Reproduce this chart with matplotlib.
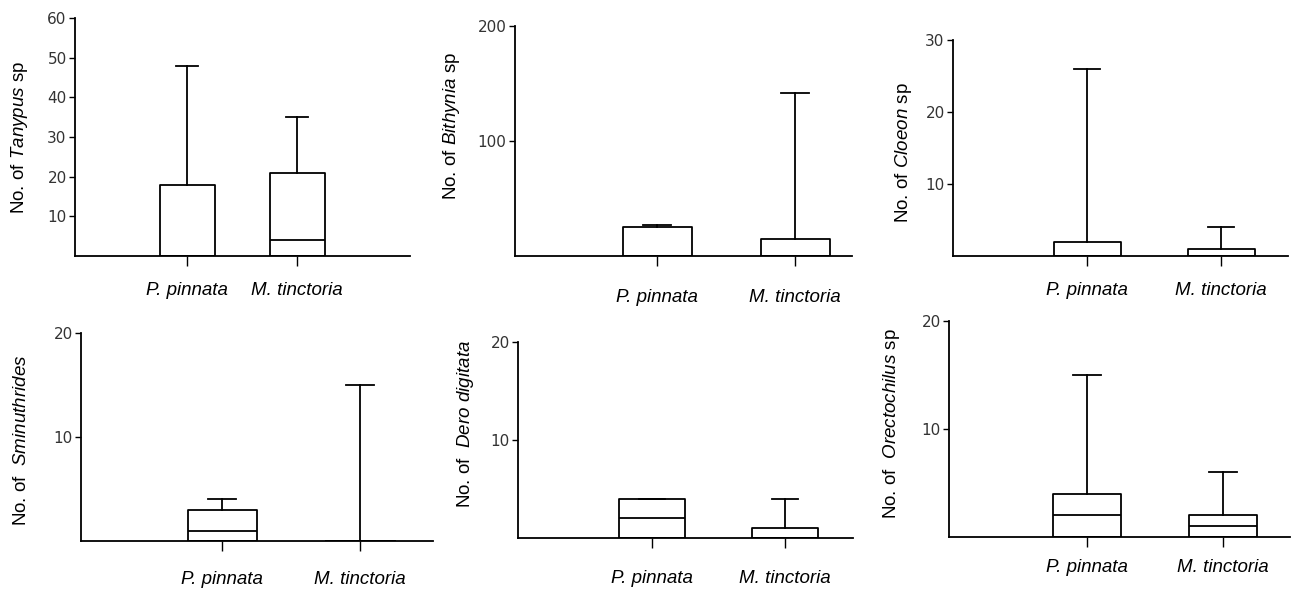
import matplotlib
matplotlib.use("Agg")
import matplotlib.pyplot as plt

plt.rcParams['font.family'] = ['Liberation Sans', 'DejaVu Sans']
plt.rcParams['mathtext.fontset'] = 'custom'
plt.rcParams['mathtext.rm'] = 'Liberation Sans'
plt.rcParams['mathtext.it'] = 'Liberation Sans:italic'

# groups on the x axis
groups = ["P. pinnata", "M. tinctoria"]

# y labels
ylabels = [
    r"No. of $\mathit{Tanypus}$ sp",
    r"No. of $\mathit{Bithynia}$ sp",
    r"No. of $\mathit{Cloeon}$ sp",
    r"No. of  $\mathit{Sminuthrides}$",
    r"No. of  $\mathit{Dero\ digitata}$",
    r"No. of  $\mathit{Orectochilus}$ sp",
]

# box stats per panel: [P. pinnata, M. tinctoria]
mins = [[0, 0], [0, 0], [0, 0], [0, 0], [0, 0], [0, 0]]
q1s = [[0, 0], [0, 0], [0, 0], [0, 0], [0, 0], [0, 0]]
medians = [[0, 4], [0, 0], [0, 0], [1, 0], [2, 0], [2, 1]]
q3s = [[18, 21], [25, 14.5], [2, 1], [3, 0], [4, 1], [4, 2]]
maxs = [[48, 35], [27, 142], [26, 4], [4, 15], [4, 4], [15, 6]]

ymaxs = [60, 200, 30, 20, 20, 20]
yticks = [[10, 20, 30, 40, 50, 60], [100, 200], [10, 20, 30],
          [10, 20], [10, 20], [10, 20]]

W, H = 1291, 591
fig = plt.figure(figsize=(W / 100, H / 100), dpi=100)

# pixel layout: (left, top, right, bottom, x of group 1, x of group 2)
frames = [
    (75, 18, 410, 256, 187, 297),
    (515, 26, 852, 256, 657, 795),
    (953, 40, 1288, 256, 1087, 1221),
    (81, 333, 433, 541, 222, 360),
    (518, 342, 853, 538, 652, 785),
    (949, 321, 1290, 537, 1087, 1223),
]
ylabel_x = [20, 452, 903, 21, 466, 891]
ylabel_y = [137, 126, 153, 440, 424, 424]
xlabel_pad = [12, 16.5, 11.5, 14.4, 16, 8.6]

for i in range(6):
    left, top, right, bottom, g1, g2 = frames[i]
    ax = fig.add_axes([left / W, 1 - bottom / H, (right - left) / W, (bottom - top) / H])
    step = g2 - g1
    ax.set_xlim(1 - (g1 - left) / step, 2 + (right - g2) / step)
    ax.set_ylim(0, ymaxs[i])

    stats = []
    for j in range(2):
        stats.append(dict(whislo=mins[i][j], q1=q1s[i][j], med=medians[i][j],
                          q3=q3s[i][j], whishi=maxs[i][j], fliers=[]))
    lw = 1.3
    ax.bxp(stats, positions=[1, 2], widths=0.5, capwidths=0.2, showfliers=False,
           boxprops=dict(color='black', linewidth=lw),
           whiskerprops=dict(color='black', linewidth=lw),
           capprops=dict(color='black', linewidth=lw),
           medianprops=dict(color='black', linewidth=lw))

    ax.set_xticks([1, 2])
    ax.set_xticklabels(groups, fontsize=13.5, style='italic')
    ax.set_yticks(yticks[i])
    ax.set_yticklabels([str(t) for t in yticks[i]], fontsize=11,
                       family='DejaVu Sans', color='#333333')
    ax.tick_params(axis='x', length=7, width=1, pad=xlabel_pad[i])
    ax.tick_params(axis='y', length=4, width=1, pad=2)
    for s in ['top', 'right']:
        ax.spines[s].set_visible(False)
    for s in ['left', 'bottom']:
        ax.spines[s].set_linewidth(1.3)

    ax.set_ylabel(ylabels[i], fontsize=13.5, va='center')
    lx, ly = ylabel_x[i], ylabel_y[i]
    ax.yaxis.set_label_coords((lx - left) / (right - left), (bottom - ly) / (bottom - top))

fig.savefig("out.png", dpi=100)
